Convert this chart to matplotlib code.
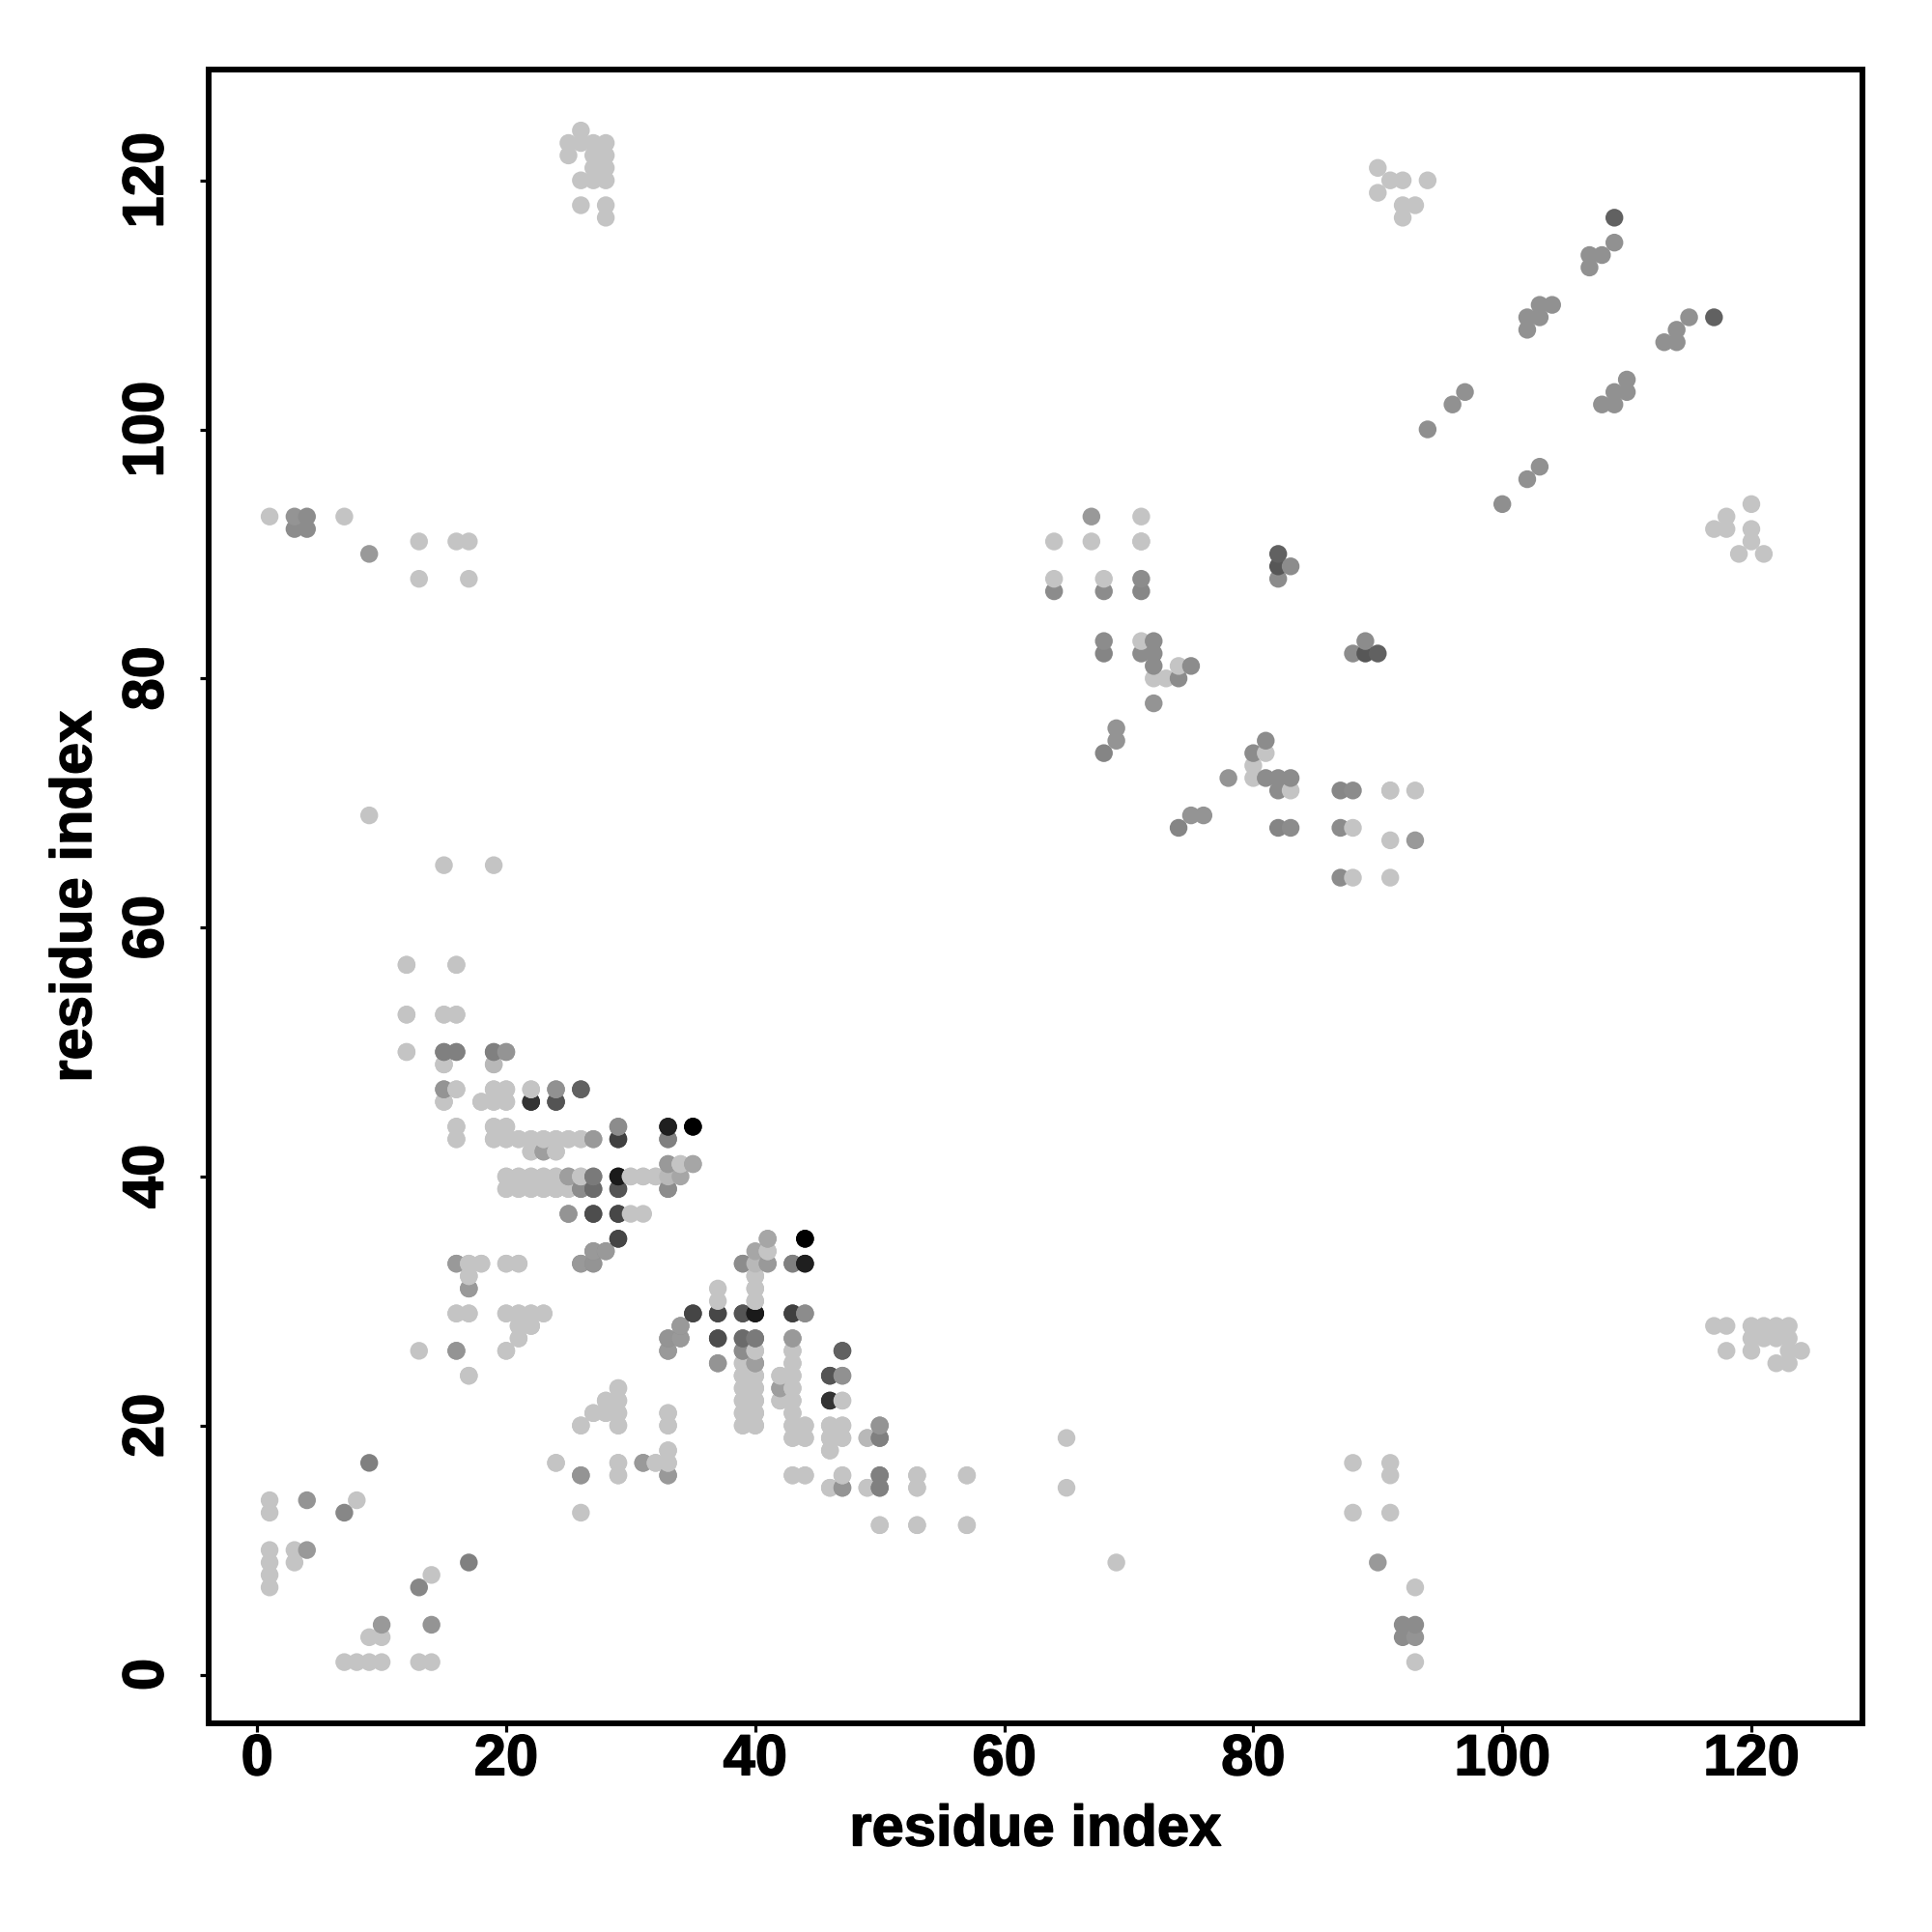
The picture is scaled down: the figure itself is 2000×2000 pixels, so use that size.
import matplotlib
matplotlib.use("Agg")
import matplotlib.pyplot as plt
import matplotlib.patheffects as pe

plt.rcParams['font.family'] = ['Liberation Sans', 'DejaVu Sans']

LIGHT = 0.77

# Contacts listed once (a < b); the map is symmetric, both (a, b) and (b, a) are drawn.
light_a = [1,7,13,16,17,13,17,9,15,19,12,16,12,15,16,12,15,19,16,19,20,22,15,18,19,20,16,19,20,
           16,19,20,21,22,23,24,25,26,22,24,34,20,21,22,23,24,26,30,31,32,20,21,22,23,24,25,
           30,31,17,18,20,21,17,16,17,20,21,22,23,21,22,21,20,17,
           41,40,40,40,39,40,43,39,43,39,40,42,43,39,40,43,39,40,42,43,47,39,40,43,39,40,43,44,46,47,
           43,44,46,47,46,43,44,47,53,57,46,49,53,50,53,57,
           32,33,33,33,33,29,29,29,29,28,28,27,26,29,29,26,24,
           1,1,1,1,1,1,3,3,8,
           64,64,67,68,71,71,71,71,72,73,74,
           26,25,26,27,28,25,27,28,27,28,26,27,28,26,28,28,
           90,90,91,92,92,92,93,94]
light_b = [93,93,91,91,91,88,88,69,65,65,57,57,53,53,53,50,49,49,47,47,47,47,46,46,46,46,44,44,44,
           43,43,43,43,43,43,43,43,43,42,42,41,40,40,40,40,40,40,40,40,40,39,39,39,39,39,39,
           37,37,33,33,33,33,32,29,29,29,29,29,29,28,28,27,26,24,
           34,32,31,30,25,26,26,24,25,24,24,24,24,23,23,23,22,22,22,22,22,21,21,21,20,20,20,20,20,20,
           19,19,19,19,18,16,16,16,16,16,15,15,15,12,12,12,
           17,17,18,20,21,23,22,21,20,22,21,21,20,17,16,13,17,
           7,8,9,10,13,14,9,10,14,
           88,91,91,88,83,91,93,91,80,80,81,
           124,123,123,123,123,122,122,122,121,121,120,120,120,118,118,117,
           119,121,120,117,118,120,118,120]

mid_a = [3,4,3,4,9,15,16,19,20,15,24,26,22,24,29,33,35,27,29,33,23,33,35,25,27,29,33,34,26,27,29,33,
         25,27,29,29,27,28,16,26,27,17,16,
         39,41,43,44,41,44,35,37,39,40,43,44,34,33,34,37,39,40,43,33,39,47,37,40,46,47,42,46,50,49,50,
         47,50,50,31,33,26,
         4,4,7,9,
         64,67,68,68,68,68,69,69,71,71,71,72,72,72,72,74,75,82,82,82,83,
         94,96,97,102,102,103,103,104,107,107,108,109,109]
mid_b = [93,93,92,92,90,50,50,50,50,47,47,47,46,46,44,44,44,43,43,43,42,41,41,40,40,40,40,40,39,39,39,39,
         37,37,37,35,34,34,33,33,33,31,26,
         33,33,33,33,35,35,29,29,29,29,29,29,28,27,27,27,27,27,27,26,26,26,25,25,24,24,23,22,20,19,19,
         15,16,15,17,16,16,
         10,14,13,17,
         87,93,74,82,83,87,75,76,82,87,88,78,81,82,83,80,81,88,89,90,89,
         100,102,103,108,109,109,110,110,113,114,114,115,117]
mid_grey = [.58,.55,.55,.55,.60,.50,.50,.52,.55,.60,.58,.38,.20,.30,.55,.12,.00,.60,.25,.50,.60,.62,.65,.60,.50,.10,.72,.65,.55,.42,.30,.55,
            .58,.30,.28,.27,.55,.55,.60,.55,.55,.60,.60,
            .55,.60,.50,.12,.65,.00,.27,.28,.33,.10,.25,.55,.60,.58,.60,.30,.42,.48,.60,.60,.55,.38,.58,.62,.33,.57,.62,.20,.58,.72,.50,
            .58,.50,.50,.60,.60,.58,
            .60,.58,.53,.50,
            .55,.60,.52,.52,.55,.55,.58,.58,.55,.53,.55,.58,.55,.55,.55,.55,.55,.55,.34,.38,.55,
            .56,.57,.57,.57,.57,.57,.57,.57,.57,.57,.57,.57,.38]

x_ticks = [0, 20, 40, 60, 80, 100, 120]
y_ticks = [0, 20, 40, 60, 80, 100, 120]

contacts = []
for a, b in zip(light_a, light_b):
    contacts += [(a, b, LIGHT), (b, a, LIGHT)]
for a, b, g in zip(mid_a, mid_b, mid_grey):
    contacts += [(a, b, g), (b, a, g)]
contacts.sort(key=lambda c: (c[0], c[1]))

xs = [c[0] for c in contacts]
ys = [c[1] for c in contacts]
cs = [str(c[2]) for c in contacts]

fig = plt.figure(figsize=(20, 20), dpi=100)
ax = fig.add_axes([216/2000, 1-1784/2000, (1928-216)/2000, (1784-72)/2000])
ax.scatter(xs, ys, s=176, c=cs, linewidths=0, zorder=2)
ax.set_xlim((216-266.2)/12.89, (1928-266.2)/12.89)
ax.set_ylim((1733.5-1784)/12.89, (1733.5-72)/12.89)
ax.set_xticks(x_ticks)
ax.set_yticks(y_ticks)
for s in ax.spines.values():
    s.set_linewidth(4.3)
    s.set_capstyle('projecting')
ax.tick_params(axis='both', length=6.5, width=2.3, labelsize=43)
ax.tick_params(axis='x', pad=1)
ax.tick_params(axis='y', pad=19)
heavier = [pe.withStroke(linewidth=1.0, foreground='black')]
for t in ax.get_xticklabels():
    t.set_fontweight('bold')
    t.set_path_effects(heavier)
for t in ax.get_yticklabels():
    t.set_fontweight('bold')
    t.set_rotation(90)
    t.set_va('center')
    t.set_path_effects(heavier)
ax.set_xlabel('residue index', fontsize=43, fontweight='bold', labelpad=13, path_effects=heavier)
ax.set_ylabel('residue index', fontsize=43, fontweight='bold', labelpad=14, path_effects=heavier)
fig.savefig('out.png', dpi=100, facecolor='white')
